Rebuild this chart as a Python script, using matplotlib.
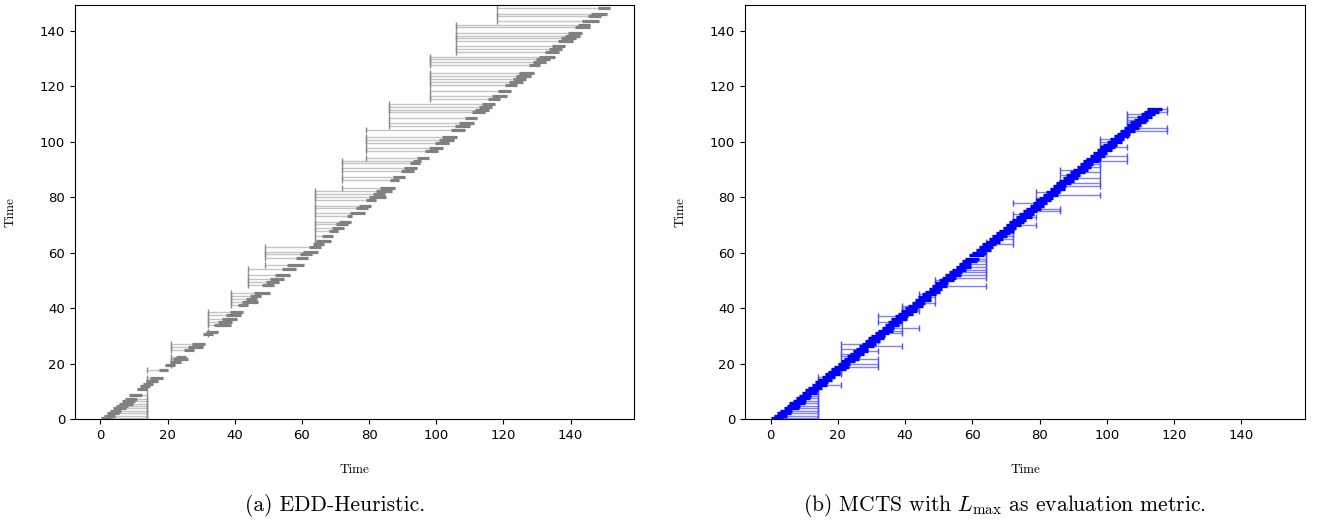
import matplotlib
matplotlib.use("Agg")
import matplotlib.pyplot as plt

plt.rcParams['mathtext.fontset'] = 'cm'

# (a) EDD heuristic: start time (= y), processing time, due date per job
edd_start = [0.3, 1.2, 2.0, 2.9, 3.8, 4.6, 5.5, 6.4, 7.3, 8.6, 10.8, 11.8, 12.7, 13.7, 14.9, 17.5,
             19.3, 20.7, 21.6, 22.5, 24.8, 26.0, 27.2,
             30.5, 31.4, 33.8, 35.0, 36.2, 37.4, 38.6,
             41.0, 42.2, 43.4, 44.4, 45.6,
             48.2, 49.4, 50.6, 52.0, 54.2,
             55.6, 58.2, 59.4, 60.4, 62.0,
             63.2, 64.2, 66.0, 68.0, 69.0, 70.2, 71.0, 73.4, 74.3, 76.2, 77.0, 79.2, 80.1, 81.2, 82.2,
             83.2, 86.2, 87.2, 89.5, 90.4, 92.2, 93.1,
             94.2, 96.6, 97.7, 99.6, 100.8, 101.8, 104.4,
             105.6, 106.7, 108.5, 110.7, 111.6, 112.6, 113.6,
             115.4, 116.6, 118.5, 120.6, 121.7, 122.8, 123.8, 124.7, 127.6, 128.8, 129.8, 130.7,
             132.5, 133.5, 134.5, 136.4, 137.3, 138.3, 139.2, 141.4, 142.3,
             143.5, 145.3, 146.2, 148.3]
edd_dur = [3.2, 3.0, 3.6, 3.3, 3.9, 3.5, 4.1, 3.8, 3.6, 3.7, 3.0, 2.9, 2.8, 3.4, 3.6, 2.6,
           2.8, 3.2, 4.6, 3.0, 3.2, 4.5, 3.8,
           3.0, 3.6, 5.0, 4.3, 4.6, 4.4, 3.8,
           3.0, 4.6, 3.2, 3.5, 4.8,
           3.5, 3.9, 4.2, 4.4, 4.0,
           5.0, 3.5, 3.6, 4.3, 3.6,
           3.5, 4.5, 3.2, 2.6, 3.4, 3.5, 3.6, 1.6, 4.4, 3.5, 3.6, 3.0, 4.8, 3.5, 4.5,
           4.5, 2.6, 3.5, 4.0, 4.0, 3.0, 2.5,
           3.6, 3.8, 4.4, 4.2, 4.6, 4.4, 4.2,
           4.4, 4.6, 3.7, 3.8, 4.0, 3.9, 4.0,
           3.6, 4.4, 3.7, 3.6, 4.2, 4.0, 4.4, 4.5, 3.2, 4.0, 4.0, 4.6,
           4.0, 4.0, 3.8, 4.2, 4.2, 4.4, 4.3, 4.5, 3.4,
           5.0, 3.7, 4.7, 3.5]
edd_due = [14] * 16 + [21] * 7 + [32] * 7 + [39] * 5 + [44] * 5 + [49] * 5 + [64] * 15 + \
          [72] * 7 + [79] * 7 + [86] * 7 + [98] * 12 + [106] * 9 + [118] * 4

# (b) MCTS with L_max
mcts_start = [0.2, 1.1, 2.0, 2.9, 3.9, 4.8, 5.6, 6.6, 7.5, 8.4,
              9.3, 10.3, 11.2, 12.3, 13.2, 14.2, 15.3, 16.2, 17.1, 18.0,
              18.9, 19.9, 20.8, 21.7, 22.6, 23.6, 24.4, 25.4, 26.3, 27.2,
              28.1, 29.1, 30.0, 31.0, 31.9, 33.0, 33.9, 35.0, 35.9, 37.0,
              38.0, 38.9, 40.0, 40.9, 41.9, 43.0, 43.9, 45.0, 45.9, 47.0,
              48.0, 48.9, 50.0, 51.0, 51.9, 53.0, 53.9, 55.0, 55.9, 57.0,
              57.9, 59.0, 59.9, 61.0, 61.9, 63.0, 63.9, 65.0, 65.9, 67.0,
              67.9, 69.0, 69.9, 71.0, 71.9, 73.0, 73.9, 75.0, 75.9, 77.0,
              78.0, 79.0, 79.9, 81.0, 81.9, 83.0, 83.9, 85.0, 85.9, 87.0,
              87.9, 89.0, 89.9, 91.0, 91.9, 93.0, 93.9, 95.0, 95.9, 97.0,
              98.0, 98.9, 100.0, 100.9, 102.0, 102.9, 104.0, 105.0, 106.0, 107.0,
              108.0, 109.0, 110.0, 110.9, 112.0]
mcts_dur = [3.4, 3.9, 4.2, 3.6, 4.4, 3.8, 4.5, 4.0, 4.3, 3.7,
            4.4, 3.9, 4.1, 4.6, 3.8, 4.2, 4.0, 4.4, 3.6, 4.3,
            4.5, 3.8, 4.2, 4.6, 3.9, 4.1, 4.5, 3.7, 4.4, 4.0,
            4.3, 4.6, 3.9, 4.2, 4.5, 3.8, 4.4, 4.1, 4.6, 3.9,
            4.2, 4.5, 3.8, 4.4, 4.0, 4.6, 3.9, 4.3, 4.5, 4.1,
            4.4, 3.9, 4.5, 4.2, 4.6, 4.0, 4.3, 4.5, 3.8, 4.4,
            4.2, 4.6, 4.0, 4.5, 4.3, 3.9, 4.4, 4.1, 4.5, 4.2,
            4.4, 4.0, 4.5, 4.2, 3.9, 4.6, 4.3, 4.1, 4.5, 4.2,
            4.3, 4.5, 4.0, 4.4, 4.2, 4.6, 3.9, 4.4, 4.3, 4.5,
            4.1, 4.4, 4.6, 4.2, 4.0, 4.5, 4.3, 4.4, 4.1, 4.5,
            4.4, 4.2, 4.5, 4.3, 4.6, 4.0, 4.4, 4.5, 4.1, 4.6,
            4.3, 4.5, 4.2, 4.6, 4.5]
mcts_due = [14, 14, 14, 14, 14, 14, 14, 14, 14, 14,
            14, 14, 14, 21, 14, 14, 14, 21, 21, 21,
            32, 32, 21, 32, 21, 21, 32, 21, 39, 21,
            32, 32, 32, 39, 39, 44, 39, 32, 39, 32,
            39, 44, 39, 39, 49, 44, 49, 44, 49, 49,
            64, 49, 49, 64, 64, 64, 64, 64, 64, 64,
            64, 64, 64, 64, 64, 72, 64, 72, 72, 72,
            72, 72, 79, 72, 72, 79, 72, 86, 86, 79,
            72, 79, 79, 98, 79, 86, 98, 98, 86, 98,
            86, 98, 86, 98, 98, 106, 98, 106, 98, 98,
            106, 98, 98, 98, 106, 106, 118, 118, 106, 106,
            106, 106, 106, 118, 118]


def draw_schedule(ax, starts, durs, dues, bar_color, line_color, cap_color, bar_lw):
    ends = [s + d for s, d in zip(starts, durs)]
    lo = [min(d, s) for s, d in zip(starts, dues)]
    hi = [max(d, e) for e, d in zip(ends, dues)]
    ax.hlines(starts, lo, hi, colors=line_color, linewidth=1.0, zorder=1)
    ax.plot(dues, starts, linestyle='none', marker='|', markersize=4.5,
            markeredgewidth=1.0, color=cap_color, zorder=2)
    ax.hlines(starts, starts, ends, colors=bar_color, linewidth=bar_lw, zorder=3)
    ax.set_xlim(-7.6, 158.9)
    ax.set_ylim(0, 149.4)
    ax.set_xticks(range(0, 141, 20))
    ax.set_yticks(range(0, 141, 20))
    ax.tick_params(labelsize=9.5)
    ax.set_xlabel('Time', family='cmr10', fontsize=9.5, labelpad=16)
    ax.set_ylabel('Time', family='cmr10', fontsize=9.5, labelpad=17)


fig = plt.figure(figsize=(13.17, 5.23), dpi=100)
ax1 = fig.add_axes([0.0569, 0.1989, 0.4245, 0.7916])
ax2 = fig.add_axes([0.5657, 0.1989, 0.4252, 0.7916])

draw_schedule(ax1, edd_start, edd_dur, edd_due, '#808080', '#c4c4c4', '#8a8a8a', 2.3)
draw_schedule(ax2, mcts_start, mcts_dur, mcts_due, '#0000ff', '#8080ff', '#4d4dff', 2.4)

fig.text(0.2544, 0.034, '(a) EDD-Heuristic.', ha='center', va='center',
         family='cmr10', fontsize=15.5)
fig.text(0.763, 0.034, r'(b) MCTS with $L_{\max}$ as evaluation metric.', ha='center',
         va='center', family='cmr10', fontsize=15.5)

fig.savefig('out.png', dpi=100)
